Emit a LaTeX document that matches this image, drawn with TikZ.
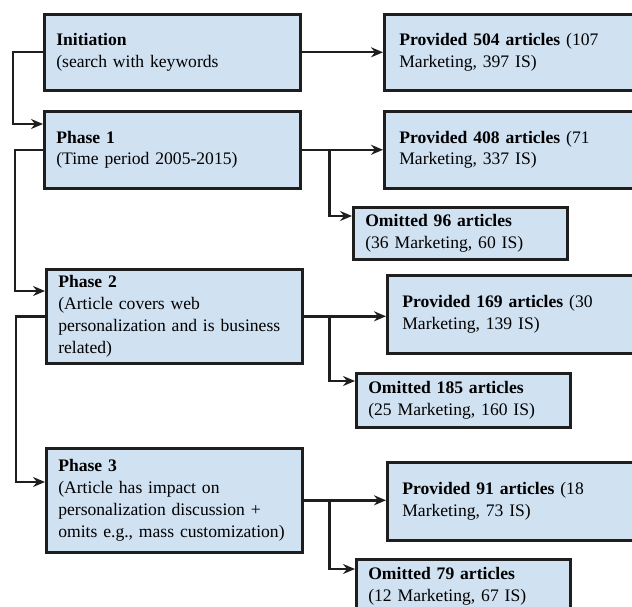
\documentclass[tikz,border=0pt]{standalone}
\usepackage{fontspec}
\setmainfont{Liberation Serif}
\usetikzlibrary{arrows.meta,calc}
\definecolor{boxfill}{RGB}{208,225,242}
\definecolor{edge}{RGB}{30,30,30}
\tikzset{
  box/.style={draw=edge, line width=2.6pt, fill=boxfill, rectangle, anchor=north west,
    align=left, inner ysep=0pt, font=\fontsize{17.6}{21.8}\selectfont},
  lbox/.style={box, minimum width=256pt, inner xsep=12pt, text width=232pt},
  rbox/.style={box, minimum width=280pt, inner xsep=14pt, text width=250pt},
  obox/.style={box, minimum width=214pt, inner xsep=12pt, text width=190pt},
  conn/.style={draw=edge, line width=2.4pt},
  arr/.style={conn, -{Stealth[length=12pt,width=10pt,inset=4pt]}}
}
\begin{document}
\begin{tikzpicture}[x=1pt,y=-1pt]
\useasboundingbox (0,0) rectangle (632,607);
\clip (0,0) rectangle (632,607);
\fill[white] (0,0) rectangle (632,607);
% left column
\node[lbox, minimum height=76pt] (init) at (43,13) {\textbf{Initiation}\\(search with keywords};
\node[lbox, minimum height=77pt] (p1) at (43,110) {\textbf{Phase 1}\\(Time period 2005-2015)};
\node[lbox, minimum height=94pt] (p2) at (45,268) {\textbf{Phase 2}\\(Article covers web\\personalization and is business\\related)};
\node[lbox, minimum height=104pt] (p3) at (45,447) {\textbf{Phase 3}\\(Article has impact on\\personalization discussion +\\omits e.g., mass customization)};
% right column
\node[rbox, minimum height=76pt] (r1) at (383,13) {\textbf{Provided 504 articles} (107\\Marketing, 397 IS)};
\node[rbox, minimum height=77pt] (r2) at (383,110) {\textbf{Provided 408 articles} (71\\Marketing, 337 IS)};
\node[obox, minimum height=52pt] (o2) at (352,206) {\textbf{Omitted 96 articles}\\(36 Marketing, 60 IS)};
\node[rbox, minimum height=78pt] (r3) at (386,274) {\textbf{Provided 169 articles} (30\\Marketing, 139 IS)};
\node[obox, minimum height=54pt] (o3) at (355,372) {\textbf{Omitted 185 articles}\\(25 Marketing, 160 IS)};
\node[rbox, minimum height=78pt] (r4) at (386,461) {\textbf{Provided 91 articles} (18\\Marketing, 73 IS)};
\node[obox, minimum height=54pt] (o4) at (355,558) {\textbf{Omitted 79 articles}\\(12 Marketing, 67 IS)};
% left connectors
\draw[arr] (init.west) -- ++(-30,0) |- ($(p1.north west)+(0,14)$);
\draw[arr] (p1.west) -- ++(-28,0) |- ($(p2.north west)+(0,23)$);
\draw[arr] (p2.west) -- ++(-29,0) |- ($(p3.north west)+(0,35)$);
% right connectors
\draw[arr] (init.east) -- (init.east -| r1.west);
\draw[arr] (p1.east) -- (p1.east -| r2.west);
\coordinate (b2) at ($(p1.east)+(28,0)$);
\draw[arr] (b2) |- ($(o2.north west)+(0,10)$);
\draw[arr] (p2.east) -- (p2.east -| r3.west);
\coordinate (b3) at ($(p2.east)+(26,0)$);
\draw[arr] (b3) |- ($(o3.north west)+(0,9)$);
\draw[arr] (p3.east) -- (p3.east -| r4.west);
\coordinate (b4) at ($(p3.east)+(26,0)$);
\draw[arr] (b4) |- ($(o4.north west)+(0,11)$);
\end{tikzpicture}
\end{document}
